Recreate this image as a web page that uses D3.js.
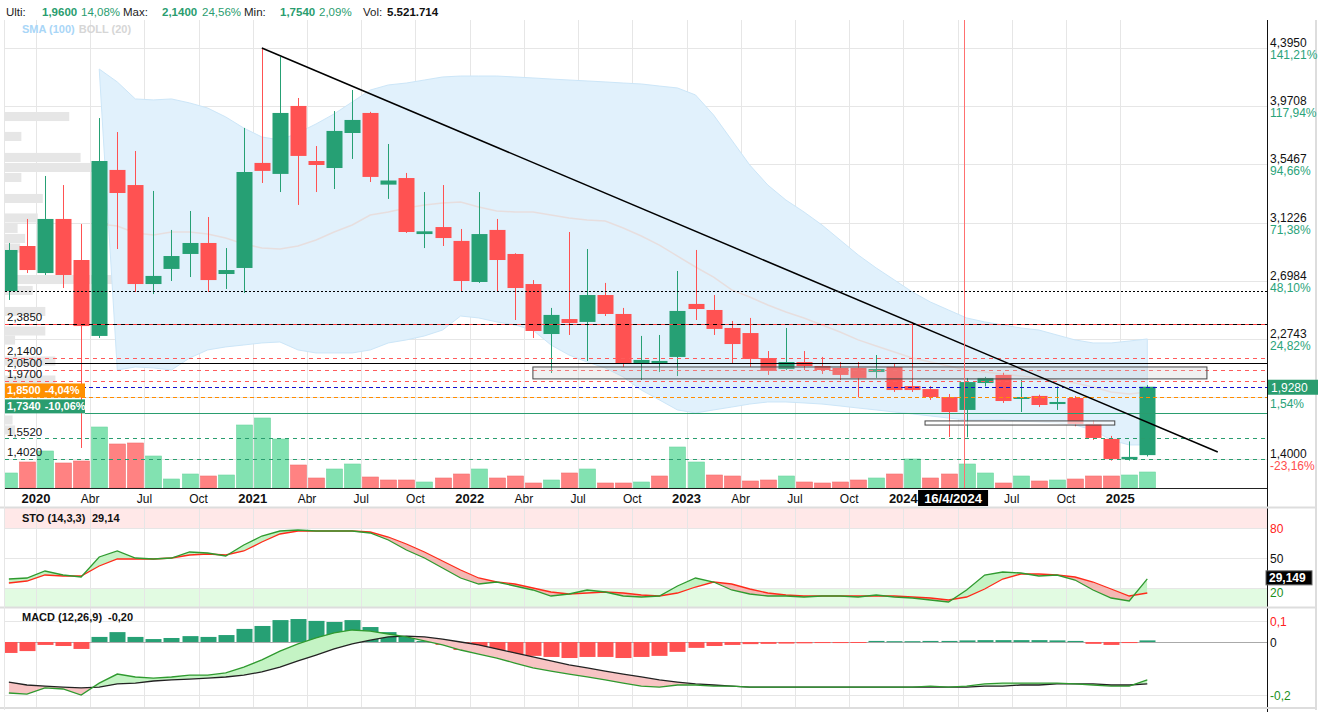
<!DOCTYPE html>
<html><head><meta charset="utf-8">
<script src="https://cdn.jsdelivr.net/npm/d3@7"></script>
<style>
body{margin:0;background:#fff}
svg{display:block;font-family:"Liberation Sans",Arial,sans-serif}
.narrow{font-family:"Liberation Sans Narrow","Arial Narrow","Liberation Sans",Arial,sans-serif}
</style>
</head><body>
<svg id="c" width="1320" height="712"></svg>
<script>
// ---------------- DATA ----------------
const firstMonth = new Date(2019, 10, 1); // Nov 2019
const monthNames = ["Ene","Feb","Mar","Abr","May","Jun","Jul","Ago","Sep","Oct","Nov","Dic"];

const openP  = [2.625,2.953,2.756,3.150,2.851,2.298,3.507,3.397,2.676,2.786,2.895,2.975,2.749,2.793,3.558,3.478,3.973,3.572,3.521,3.776,3.922,3.400,3.448,3.040,3.091,2.990,2.691,3.070,2.895,2.676,2.312,2.421,2.400,2.596,2.458,2.101,2.101,2.145,2.531,2.487,2.356,2.319,2.137,2.057,2.108,2.079,2.065,2.065,2.035,2.072,1.933,1.911,1.853,1.759,1.955,2.014,1.839,1.861,1.802,1.846,1.657,1.548,1.400,1.430];
const highP  = [2.975,3.150,3.463,3.397,3.113,3.885,3.783,3.645,3.354,3.070,3.208,3.164,2.938,3.813,4.395,4.330,4.031,3.681,3.936,4.089,3.930,3.696,3.485,3.346,3.397,3.077,3.346,3.150,2.900,2.705,2.502,3.055,2.931,2.684,2.502,2.298,2.305,2.771,2.924,2.596,2.407,2.429,2.188,2.356,2.188,2.145,2.108,2.108,2.159,2.101,2.400,1.933,1.875,1.992,2.000,2.030,1.977,1.870,1.930,1.860,1.680,1.570,1.530,1.940];
const lowP   = [2.560,2.756,2.742,2.647,1.482,2.283,2.931,2.618,2.603,2.698,2.727,2.618,2.640,2.611,3.412,3.346,3.252,3.346,3.368,3.587,3.419,3.296,3.048,2.938,2.953,2.625,2.684,2.625,2.414,2.283,2.028,2.305,2.116,2.443,2.072,1.977,2.035,2.006,2.414,2.305,2.094,2.072,2.014,2.050,2.050,2.021,1.977,1.850,1.992,1.890,1.890,1.832,1.562,1.560,1.930,1.810,1.744,1.780,1.759,1.640,1.540,1.390,1.390,1.420];
const closeP = [2.924,2.778,3.150,2.742,2.370,3.572,3.339,2.676,2.735,2.880,2.975,2.705,2.778,3.492,3.500,3.922,3.609,3.543,3.791,3.871,3.456,3.430,3.055,3.060,3.011,2.698,3.040,2.851,2.647,2.334,2.451,2.392,2.596,2.458,2.101,2.123,2.116,2.480,2.494,2.349,2.239,2.130,2.043,2.108,2.079,2.050,2.014,1.992,2.057,1.904,1.904,1.853,1.744,1.962,1.992,1.824,1.853,1.795,1.817,1.657,1.555,1.402,1.417,1.928];
const volumeM = [7.5,13,18.5,12.5,13.5,30.5,22,22.5,16,4.5,7,6,6.5,31.5,35,24.5,11.5,5,9.5,12,5.5,4,4,3,5,7,9.5,5,6,2.5,4,7.5,9.5,2.5,2.5,3,6,20.5,13,6.5,6,3.5,4,6,3,2.5,3,4,5,7,14.5,5,7,12,7.5,2.5,6,3.5,4,4.5,6,6,6.5,8];

const bollUpper = [null,null,null,null,null,4.242,4.148,4.024,4.017,4.024,3.995,3.958,3.893,3.812,3.747,3.725,3.776,3.842,3.915,4.002,4.089,4.126,4.140,4.162,4.184,4.191,4.191,4.191,4.184,4.177,4.169,4.162,4.155,4.148,4.140,4.133,4.118,4.104,4.053,3.907,3.725,3.543,3.397,3.288,3.201,3.106,2.997,2.888,2.793,2.706,2.618,2.545,2.487,2.429,2.400,2.378,2.356,2.341,2.305,2.269,2.247,2.247,2.261,2.276];
const bollMid   = [null,null,null,null,null,3.113,3.099,3.048,3.033,3.055,3.055,3.041,3.011,2.968,2.939,2.931,2.953,2.997,3.055,3.106,3.179,3.201,3.230,3.252,3.266,3.274,3.237,3.208,3.201,3.201,3.179,3.157,3.142,3.135,3.084,3.026,2.960,2.880,2.800,2.727,2.633,2.582,2.523,2.472,2.429,2.378,2.327,2.269,2.225,2.181,2.137,2.108,2.079,2.050,2.035,2.021,2.006,1.992,1.977,1.955,1.926,1.890,1.875,1.890];
const bollLower = [null,null,null,null,null,4.242,2.050,2.072,2.065,2.050,2.137,2.196,2.218,2.232,2.247,2.254,2.196,2.174,2.174,2.174,2.196,2.247,2.269,2.298,2.341,2.443,2.429,2.400,2.378,2.341,2.232,2.159,2.108,2.065,1.999,1.904,1.832,1.759,1.737,1.759,1.780,1.802,1.817,1.817,1.810,1.802,1.788,1.773,1.759,1.744,1.730,1.715,1.700,1.686,1.686,1.686,1.679,1.671,1.664,1.649,1.613,1.540,1.504,1.504];

const stoK = [29,30,37,33,31,51,57,50,49,50,56,55,52,63,72,77,78,77,77,77,75,68,58,50,40,30,24,26,22,18,12,14,18,16,12,11,12,22,30,26,18,14,12,12,11,12,12,11,13,11,10,8,6,18,33,36,35,32,33,28,18,10,7,29.149];
const stoD = [25,27,33,32,32,42,49,49,49,50,53,54,53,57,66,74,77,77,77,77,76,71,64,56,47,38,30,26,24,20,16,14,15,16,15,13,12,15,21,26,24,19,15,13,12,12,12,12,12,12,11,10,8,11,19,29,34,34,33,31,26,19,12,15];

const macdLine = [-0.191,-0.195,-0.172,-0.176,-0.199,-0.154,-0.120,-0.131,-0.135,-0.131,-0.124,-0.124,-0.116,-0.094,-0.067,-0.034,-0.007,0.015,0.034,0.045,0.041,0.030,0.019,0.004,-0.011,-0.030,-0.045,-0.060,-0.079,-0.097,-0.109,-0.120,-0.131,-0.142,-0.154,-0.165,-0.169,-0.161,-0.161,-0.165,-0.165,-0.169,-0.169,-0.169,-0.169,-0.169,-0.169,-0.169,-0.169,-0.169,-0.169,-0.165,-0.169,-0.165,-0.157,-0.154,-0.154,-0.154,-0.154,-0.157,-0.161,-0.165,-0.165,-0.142];
const macdSignal = [-0.150,-0.161,-0.165,-0.169,-0.172,-0.169,-0.157,-0.154,-0.146,-0.142,-0.139,-0.135,-0.131,-0.124,-0.112,-0.094,-0.071,-0.049,-0.026,-0.007,0.007,0.019,0.022,0.019,0.011,0.000,-0.011,-0.026,-0.041,-0.056,-0.071,-0.086,-0.097,-0.109,-0.120,-0.131,-0.142,-0.150,-0.157,-0.161,-0.165,-0.169,-0.169,-0.169,-0.169,-0.169,-0.169,-0.169,-0.169,-0.169,-0.169,-0.169,-0.169,-0.169,-0.165,-0.165,-0.161,-0.161,-0.157,-0.157,-0.157,-0.161,-0.161,-0.157];
const macdHist = [-0.041,-0.034,-0.011,-0.015,-0.026,0.019,0.037,0.019,0.011,0.015,0.022,0.019,0.026,0.049,0.060,0.082,0.086,0.079,0.075,0.082,0.056,0.037,0.019,0.004,-0.011,-0.030,-0.034,-0.041,-0.049,-0.052,-0.056,-0.060,-0.056,-0.056,-0.060,-0.056,-0.052,-0.037,-0.022,-0.015,-0.011,-0.008,-0.007,-0.006,-0.005,-0.004,-0.004,-0.003,0.004,0.003,0.003,0.004,0.004,0.006,0.007,0.007,0.007,0.007,0.006,0.004,-0.007,-0.011,-0.004,0.006];
const macdTitleValue = -0.20;

const profilePrice = [3.896,3.751,3.598,3.525,3.452,3.299,3.157,3.081,3.008,2.938,2.709,2.629,2.476,2.334,2.268,2.115,1.977,1.686,1.613];
const profileVol   = [51,13,60,100,13,30,26,10,16,12,91,22,32,32,8,40,40,6,8];

const priceTicks = [4.3950,3.9708,3.5467,3.1226,2.6984,2.2743,1.8502,1.4000];
const pctLabels  = ["141,21%","117,94%","94,66%","71,38%","48,10%","24,82%","1,54%","-23,16%"];
const leftLevels = [2.3850,2.1400,2.0500,1.9700,1.5520,1.4020];
const redLevels  = [2.1400,2.0500,1.9700];
const dottedLevel = 2.625, solidLevel = 2.101;
const lastPrice = 1.9280;
const boxLevels = [{v:1.8500, pct:-4.04, color:"#ff9000"}, {v:1.7340, pct:-10.06, color:"#2a9d6f"}];
const trend = {i0: 14, p0: 4.395, i1: 66.9, p1: 1.453};
const rect1 = {i0: 29.0, i1: 66.3, p0: 2.072, p1: 1.985};
const rect2 = {i0: 50.7, i1: 61.2, p0: 1.679, p1: 1.649};
const markerIndex = 52.86, markerLabel = "16/4/2024";
const stoTicks = [80,50,20], macdTicks = [0.08, 0, -0.2];

// ---------------- SCALES ----------------
const svg = d3.select("#c");
const L = 5, R = 1267, T = 20, B = 488;
const x = d3.scaleLinear().domain([0, 63]).range([8.86, 1147.3]);
const step = x(1) - x(0), bw = 16;
const y = d3.scaleLinear().domain([1.1905, 4.599]).range([488, 20]);
const yVol = d3.scaleLinear().domain([0, 35]).range([488, 418]);
const xProf = d3.scaleLinear().domain([0, 100]).range([0, 126]);
const ySto = d3.scaleLinear().domain([0, 100]).range([608, 508]);
const yMacd = d3.scaleLinear().domain([-0.2434, 0.1273]).range([707, 608]);
const months = d3.range(openP.length).map(i => d3.timeMonth.offset(firstMonth, i));
const GREEN = "#26a074", RED = "#ff5252", VGREEN = "#82e2b1", VRED = "#ff8282";
const fmtC = (v, d) => d3.format("." + d + "f")(v).replace(".", ",").replace("\u2212", "-");

const defs = svg.append("defs");
defs.append("clipPath").attr("id","mainClip").append("rect").attr("x",L).attr("y",T).attr("width",R-L).attr("height",B-T);
defs.append("clipPath").attr("id","stoClip").append("rect").attr("x",L).attr("y",508).attr("width",R-L).attr("height",99);
defs.append("clipPath").attr("id","macdClip").append("rect").attr("x",L).attr("y",608).attr("width",R-L).attr("height",99);

// ---------------- BACKGROUNDS / GRID ----------------
svg.append("rect").attr("x",L).attr("y",508).attr("width",R-L).attr("height",ySto(80)-508).attr("fill","#ffe8e8");
svg.append("rect").attr("x",L).attr("y",ySto(20)).attr("width",R-L).attr("height",607-ySto(20)).attr("fill","#e2fbe2");

const qIdx = d3.range(openP.length).filter(i => months[i].getMonth() % 3 === 0);
const grid = svg.append("g").attr("stroke","#e6e6e6").attr("stroke-width",1);
qIdx.forEach(i => {
  const gx = Math.round(x(i) - step/2) + 0.5;
  grid.append("line").attr("x1",gx).attr("x2",gx).attr("y1",T).attr("y2",B);
  grid.append("line").attr("x1",gx).attr("x2",gx).attr("y1",508).attr("y2",707);
});
priceTicks.forEach(v => grid.append("line").attr("x1",L).attr("x2",R).attr("y1",Math.round(y(v))+0.5).attr("y2",Math.round(y(v))+0.5));
stoTicks.forEach(v => grid.append("line").attr("x1",L).attr("x2",R).attr("y1",ySto(v)+0.5).attr("y2",ySto(v)+0.5));
macdTicks.forEach(v => grid.append("line").attr("x1",L).attr("x2",R).attr("y1",Math.round(yMacd(v))+0.5).attr("y2",Math.round(yMacd(v))+0.5).attr("stroke", v===0?"#aaa":"#e6e6e6"));

// ---------------- MAIN PANEL ----------------
const main = svg.append("g").attr("clip-path","url(#mainClip)");

main.append("g").selectAll("rect").data(profilePrice).join("rect")
  .attr("x", L).attr("y", p => y(p + 0.033)).attr("height", p => y(p - 0.033) - y(p + 0.033))
  .attr("width", (p,i) => xProf(profileVol[i])).attr("fill","#e6e6e6");

const bIdx = d3.range(openP.length).filter(i => bollUpper[i] != null);
main.append("path").datum(bIdx)
  .attr("d", d3.area().x(i => x(i)).y0(i => y(bollLower[i])).y1(i => y(bollUpper[i])))
  .attr("fill","#e1f1fc").attr("stroke","#cce6f8").attr("stroke-width",1);
main.append("path").datum(bIdx)
  .attr("d", d3.line().x(i => x(i)).y(i => y(bollMid[i])))
  .attr("fill","none").attr("stroke","#e7dede").attr("stroke-width",1.5);

const volUp = i => (i === 0 ? closeP[i] >= openP[i] : closeP[i] >= closeP[i-1]);
main.append("g").selectAll("rect").data(volumeM).join("rect")
  .attr("x",(d,i) => Math.round(x(i)) - bw/2 + 0.5).attr("width", bw)
  .attr("y", d => yVol(d)).attr("height", d => 488 - yVol(d))
  .attr("fill",(d,i) => volUp(i) ? VGREEN : VRED)
  .attr("stroke",(d,i) => volUp(i) ? "#6fd6a1" : "#f07070")
  .attr("stroke-width",0.6);

const cg = main.append("g").selectAll("g").data(openP).join("g");
cg.append("line").attr("x1",(d,i)=>Math.round(x(i))+0.5).attr("x2",(d,i)=>Math.round(x(i))+0.5)
  .attr("y1",(d,i)=>y(highP[i])).attr("y2",(d,i)=>y(lowP[i]))
  .attr("stroke",(d,i)=>closeP[i]>=openP[i]?GREEN:RED).attr("stroke-width",1);
cg.append("rect").attr("x",(d,i)=>Math.round(x(i))-bw/2+0.5).attr("width",bw)
  .attr("y",(d,i)=>y(Math.max(openP[i],closeP[i])))
  .attr("height",(d,i)=>Math.max(1.5, y(Math.min(openP[i],closeP[i])) - y(Math.max(openP[i],closeP[i]))))
  .attr("fill",(d,i)=>closeP[i]>=openP[i]?GREEN:RED);

const hl = (v, color, dash, x1, w) => main.append("line").attr("x1", x1 ?? L).attr("x2", R)
  .attr("y1", Math.round(y(v))+0.5).attr("y2", Math.round(y(v))+0.5)
  .attr("stroke", color).attr("stroke-width", w ?? 1).attr("stroke-dasharray", dash);
hl(dottedLevel, "#000", "2,2");
hl(2.385, "#ff4040", "4,4", L);
main.append("line").attr("x1",L+4).attr("x2",R).attr("y1",Math.round(y(2.385))+0.5).attr("y2",Math.round(y(2.385))+0.5).attr("stroke","#000").attr("stroke-dasharray","4,4");
redLevels.forEach(v => hl(v, "#ff5a5a", "4,4"));
hl(solidLevel, "#000", null, 45);
hl(lastPrice, "#1010d0", "4,3");
hl(boxLevels[0].v, "#ff8c00", "4,3");
hl(boxLevels[1].v, "#2a9d6f", null, 85);
hl(1.552, "#2a9d6f", "4,4");
hl(1.402, "#2a9d6f", "4,4");

[rect1, rect2].forEach((r,k) => main.append("rect")
  .attr("x", x(r.i0)).attr("width", x(r.i1) - x(r.i0))
  .attr("y", y(r.p0)).attr("height", y(r.p1) - y(r.p0))
  .attr("fill", k===0 ? "rgba(200,200,200,0.25)" : "rgba(255,255,255,0.6)")
  .attr("stroke","#444").attr("stroke-width",1));

main.append("line").attr("x1",x(trend.i0)).attr("y1",y(trend.p0)).attr("x2",x(trend.i1)).attr("y2",y(trend.p1))
  .attr("stroke","#000").attr("stroke-width",1.5);
main.append("line").attr("x1",Math.round(x(markerIndex))+0.5).attr("x2",Math.round(x(markerIndex))+0.5)
  .attr("y1",T).attr("y2",B).attr("stroke","#ff7070").attr("stroke-width",1);

// left labels
const lbl = svg.append("g").attr("font-size",11.5).attr("fill","#111");
leftLevels.forEach(v => lbl.append("text").attr("x",7).attr("y",y(v)-2.5).text(fmtC(v,4)));
boxLevels.forEach(b => {
  lbl.append("rect").attr("x",L).attr("y",y(b.v)-14).attr("width",80).attr("height",14).attr("fill",b.color);
  const t = lbl.append("text").attr("x",7).attr("y",y(b.v)-3).attr("fill","#fff").attr("font-weight","bold").attr("font-size",11);
  t.append("tspan").text(fmtC(b.v,4));
  t.append("tspan").attr("dx",4).text(fmtC(b.pct,2) + "%");
});

// ---------------- AXES ----------------
svg.append("line").attr("x1",L).attr("x2",R).attr("y1",488.5).attr("y2",488.5).attr("stroke","#222");
svg.append("line").attr("x1",R+0.5).attr("x2",R+0.5).attr("y1",T).attr("y2",712).attr("stroke","#111");
svg.append("line").attr("x1",0).attr("x2",1316).attr("y1",507.5).attr("y2",507.5).attr("stroke","#ddd").attr("stroke-width",2);
svg.append("line").attr("x1",0).attr("x2",1316).attr("y1",607.5).attr("y2",607.5).attr("stroke","#ddd").attr("stroke-width",2);
svg.append("line").attr("x1",0).attr("x2",1316).attr("y1",708).attr("y2",708).attr("stroke","#ddd").attr("stroke-width",2);
svg.append("line").attr("x1",1316).attr("x2",1316).attr("y1",T).attr("y2",710).attr("stroke","#ddd").attr("stroke-width",2);
svg.append("line").attr("x1",L-0.5).attr("x2",L-0.5).attr("y1",T).attr("y2",710).attr("stroke","#e6e6e6");

const mx = x(markerIndex);
const xl = svg.append("g").attr("class","narrow");
qIdx.forEach(i => {
  const m = months[i], isYear = m.getMonth() === 0, gx = x(i) - step/2;
  if (gx > mx - 47 && gx < mx + 25) return; // hidden under the date marker
  xl.append("text").attr("x", gx).attr("y", 503).attr("text-anchor","middle")
    .attr("font-size", isYear ? 13 : 12).attr("font-weight", isYear ? "bold" : "normal").attr("fill","#111")
    .text(isYear ? m.getFullYear() : monthNames[m.getMonth()]);
});
svg.append("rect").attr("x",mx-46).attr("y",490).attr("width",70).attr("height",16).attr("fill","#000");
svg.append("text").attr("class","narrow").attr("x",mx-11).attr("y",503).attr("text-anchor","middle")
  .attr("font-size",13).attr("font-weight","bold").attr("fill","#fff").text(markerLabel);

// right price axis
const ra = svg.append("g").attr("font-size",12);
priceTicks.forEach((v,k) => {
  if (Math.abs(y(v) - y(lastPrice)) > 16)
    ra.append("text").attr("x",1270).attr("y",y(v)-1).attr("fill","#111").text(fmtC(v,4));
  ra.append("text").attr("x",1270).attr("y",y(v)+11).attr("fill", pctLabels[k][0]==="-" ? "#ff4d4d" : "#2aa37a").text(pctLabels[k]);
});
ra.append("rect").attr("x",1268).attr("y",y(lastPrice)-7).attr("width",50).attr("height",15).attr("fill","#2a9d6f");
ra.append("text").attr("x",1271).attr("y",y(lastPrice)+5).attr("fill","#fff").text(fmtC(lastPrice,4));

// ---------------- HEADER ----------------
const hd = svg.append("text").attr("x",6).attr("y",16).attr("font-size",11.5).attr("fill","#222");
hd.append("tspan").text("Ulti:");
hd.append("tspan").attr("x",42).attr("fill","#2a9d6f").attr("font-weight","bold").text("1,9600");
hd.append("tspan").attr("x",81).attr("fill","#2a9d6f").text("14,08%");
hd.append("tspan").attr("x",123).text("Max:");
hd.append("tspan").attr("x",162).attr("fill","#2a9d6f").attr("font-weight","bold").text("2,1400");
hd.append("tspan").attr("x",202).attr("fill","#2a9d6f").text("24,56%");
hd.append("tspan").attr("x",244).text("Min:");
hd.append("tspan").attr("x",280).attr("fill","#2a9d6f").attr("font-weight","bold").text("1,7540");
hd.append("tspan").attr("x",319).attr("fill","#2a9d6f").text("2,09%");
hd.append("tspan").attr("x",363).text("Vol:");
hd.append("tspan").attr("x",387).attr("font-weight","bold").attr("fill","#111").text("5.521.714");
const lg = svg.append("text").attr("x",22).attr("y",33).attr("font-size",11).attr("font-weight","bold");
lg.append("tspan").attr("fill","#a9d6f7").text("SMA (100)");
lg.append("tspan").attr("dx",4).attr("fill","#d6d6d6").text("BOLL (20)");

// ---------------- STO PANEL ----------------
const sto = svg.append("g").attr("clip-path","url(#stoClip)");
const idx = d3.range(openP.length);
const lineK = d3.line().x(i=>x(i)).y(i=>ySto(stoK[i]));
const lineD = d3.line().x(i=>x(i)).y(i=>ySto(stoD[i]));
defs.append("clipPath").attr("id","stoAbove").append("path").datum(idx)
  .attr("d", d3.area().x(i=>x(i)).y0(508).y1(i=>ySto(stoD[i])));
defs.append("clipPath").attr("id","stoBelow").append("path").datum(idx)
  .attr("d", d3.area().x(i=>x(i)).y0(607).y1(i=>ySto(stoD[i])));
const areaKD = d3.area().x(i=>x(i)).y0(i=>ySto(stoD[i])).y1(i=>ySto(stoK[i]));
sto.append("g").attr("clip-path","url(#stoAbove)").append("path").datum(idx).attr("d",areaKD).attr("fill","#c4f3c4");
sto.append("g").attr("clip-path","url(#stoBelow)").append("path").datum(idx).attr("d",areaKD).attr("fill","#f4b8b4");
sto.append("path").datum(idx).attr("d",lineD).attr("fill","none").attr("stroke","#ff2a1a").attr("stroke-width",1.3);
sto.append("path").datum(idx).attr("d",lineK).attr("fill","none").attr("stroke","#2f9a2f").attr("stroke-width",1.3);
const lastK = stoK[stoK.length-1];
const stoT = svg.append("text").attr("x",22).attr("y",522).attr("font-size",11).attr("font-weight","bold").attr("fill","#111");
stoT.append("tspan").text("STO (14,3,3)");
stoT.append("tspan").attr("x",92).text(fmtC(Math.floor(lastK*100)/100,2));
[[80,"#ff2020",5],[50,"#111",5],[20,"#1a8f1a",9]].forEach(([v,c,dy]) =>
  svg.append("text").attr("x",1270).attr("y",ySto(v)+dy).attr("font-size",12).attr("fill",c).text(v));
svg.append("rect").attr("x",1266).attr("y",ySto(lastK)-8).attr("width",46).attr("height",14).attr("fill","#000").attr("stroke","#666");
svg.append("text").attr("x",1269).attr("y",ySto(lastK)+3.5).attr("font-size",12).attr("font-weight","bold").attr("fill","#fff").text(fmtC(Math.floor(lastK*1000)/1000,3));

// ---------------- MACD PANEL ----------------
const mc = svg.append("g").attr("clip-path","url(#macdClip)");
mc.append("g").selectAll("rect").data(macdHist).join("rect")
  .attr("x",(d,i)=>Math.round(x(i))-bw/2+0.5).attr("width",bw)
  .attr("y",d=>Math.min(yMacd(d),yMacd(0))).attr("height",d=>Math.max(1,Math.abs(yMacd(d)-yMacd(0))))
  .attr("fill",d=>d>=0?"#26a074":"#ff5252");
defs.append("clipPath").attr("id","mAbove").append("path").datum(idx)
  .attr("d", d3.area().x(i=>x(i)).y0(608).y1(i=>yMacd(macdSignal[i])));
defs.append("clipPath").attr("id","mBelow").append("path").datum(idx)
  .attr("d", d3.area().x(i=>x(i)).y0(707).y1(i=>yMacd(macdSignal[i])));
const areaMS = d3.area().x(i=>x(i)).y0(i=>yMacd(macdSignal[i])).y1(i=>yMacd(macdLine[i]));
mc.append("g").attr("clip-path","url(#mAbove)").append("path").datum(idx).attr("d",areaMS).attr("fill","#c4f3c4");
mc.append("g").attr("clip-path","url(#mBelow)").append("path").datum(idx).attr("d",areaMS).attr("fill","#f8c4c4");
mc.append("path").datum(idx).attr("d",d3.line().x(i=>x(i)).y(i=>yMacd(macdSignal[i]))).attr("fill","none").attr("stroke","#222").attr("stroke-width",1.3);
mc.append("path").datum(idx).attr("d",d3.line().x(i=>x(i)).y(i=>yMacd(macdLine[i]))).attr("fill","none").attr("stroke","#2f9a2f").attr("stroke-width",1.3);
const mT = svg.append("text").attr("x",22).attr("y",621).attr("font-size",11).attr("font-weight","bold").attr("fill","#111");
mT.append("tspan").text("MACD (12,26,9)");
mT.append("tspan").attr("x",108).text(fmtC(macdTitleValue,2));
[[0.08,"#ff2020"],[0,"#111"],[-0.2,"#1a8f1a"]].forEach(([v,c]) =>
  svg.append("text").attr("x",1270).attr("y",yMacd(v)+5).attr("font-size",12).attr("fill",c)
    .text(v===0 ? "0" : fmtC(v,1)));
</script>
</body></html>
